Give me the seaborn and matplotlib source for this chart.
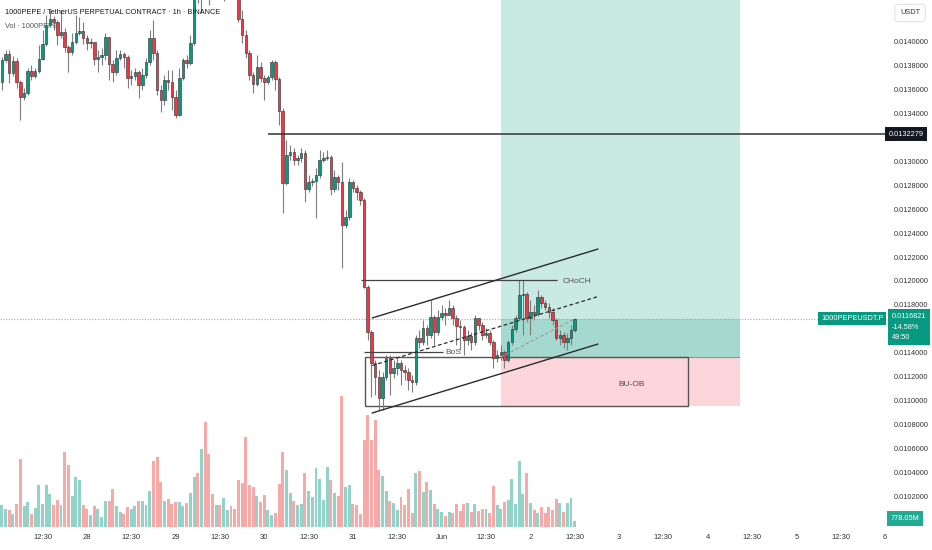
import numpy as np
import pandas as pd
import matplotlib
matplotlib.use("Agg")
import matplotlib.pyplot as plt
import matplotlib.transforms as mtransforms
from matplotlib.patches import Rectangle
import seaborn as sns

# ---------------- data (1h candles, 1000PEPE/USDT perp) ----------------
first_open = 0.013665
close = [0.013849, 0.013899, 0.013740, 0.013841, 0.013665, 0.013539, 0.013573, 0.013757, 0.013715, 0.013757,
         0.013857, 0.013983, 0.014142, 0.014192, 0.014167, 0.014058, 0.014083, 0.013958, 0.013916, 0.014000,
         0.014075, 0.014092, 0.014033, 0.013991, 0.014000, 0.013857, 0.013874, 0.013891, 0.014041, 0.013815,
         0.013749, 0.013866, 0.013899, 0.013874, 0.013698, 0.013715, 0.013749, 0.013640, 0.013723, 0.013832,
         0.014033, 0.013908, 0.013598, 0.013514, 0.013682, 0.013665, 0.013539, 0.013389, 0.013698, 0.013849,
         0.013824, 0.013991, 0.014560, 0.014451, 0.014518, 0.014468, 0.014401, 0.014384, 0.014468, 0.014418,
         0.014451, 0.014502, 0.014435, 0.014376, 0.014192, 0.014058, 0.013908, 0.013723, 0.013648, 0.013790,
         0.013698, 0.013665, 0.013707, 0.013832, 0.013690, 0.013422, 0.012820, 0.013054, 0.013079, 0.013012,
         0.013029, 0.013071, 0.012770, 0.012828, 0.012836, 0.012887, 0.013012, 0.013029, 0.013037, 0.012770,
         0.012870, 0.012828, 0.012468, 0.012535, 0.012828, 0.012778, 0.012744, 0.012677, 0.011949, 0.011573,
         0.011313, 0.011196, 0.011020, 0.011196, 0.011355, 0.011230, 0.011272, 0.011313, 0.011255, 0.011238,
         0.011171, 0.011155, 0.011523, 0.011489, 0.011606, 0.011548, 0.011698, 0.011573, 0.011698, 0.011732,
         0.011715, 0.011774, 0.011690, 0.011623, 0.011615, 0.011506, 0.011539, 0.011489, 0.011690, 0.011632,
         0.011548, 0.011564, 0.011489, 0.011355, 0.011380, 0.011405, 0.011339, 0.011489, 0.011598, 0.011690,
         0.011882, 0.011891, 0.011690, 0.011740, 0.011724, 0.011866, 0.011815, 0.011782, 0.011740, 0.011673,
         0.011523, 0.011548, 0.011489, 0.011523, 0.011590, 0.0116821]
high = [0.013874, 0.013933, 0.013933, 0.013882, 0.013866, 0.013682, 0.013615, 0.013782, 0.013807, 0.013782,
        0.013974, 0.014100, 0.014225, 0.014267, 0.014217, 0.014184, 0.014267, 0.014117, 0.013974, 0.014075,
        0.014225, 0.014209, 0.014167, 0.014058, 0.014033, 0.014000, 0.013933, 0.013949, 0.014075, 0.014041,
        0.013849, 0.013933, 0.013933, 0.013916, 0.013891, 0.013765, 0.013782, 0.013765, 0.013782, 0.013866,
        0.014100, 0.014184, 0.013933, 0.013640, 0.013723, 0.013765, 0.013765, 0.013598, 0.013782, 0.013866,
        0.013891, 0.014058, 0.014602, 0.014585, 0.014602, 0.014569, 0.014502, 0.014468, 0.014535, 0.014518,
        0.014552, 0.014585, 0.014552, 0.014468, 0.014393, 0.014267, 0.014100, 0.013933, 0.013749, 0.013891,
        0.013832, 0.013723, 0.013723, 0.013849, 0.013849, 0.013707, 0.013447, 0.013179, 0.013138, 0.013113,
        0.013054, 0.013113, 0.013096, 0.012887, 0.012862, 0.012945, 0.013096, 0.013079, 0.013096, 0.013054,
        0.012928, 0.012887, 0.012995, 0.012594, 0.012862, 0.012845, 0.012803, 0.012761, 0.012694, 0.011966,
        0.011590, 0.011339, 0.011255, 0.011238, 0.011380, 0.011380, 0.011339, 0.011355, 0.011339, 0.011297,
        0.011272, 0.011213, 0.011548, 0.011590, 0.011673, 0.011632, 0.011841, 0.011715, 0.011757, 0.011799,
        0.011774, 0.011841, 0.011799, 0.011715, 0.011673, 0.011632, 0.011590, 0.011573, 0.011715, 0.011690,
        0.011657, 0.011606, 0.011590, 0.011506, 0.011422, 0.011464, 0.011422, 0.011506, 0.011632, 0.011715,
        0.012008, 0.012008, 0.011907, 0.011841, 0.011799, 0.011924, 0.011882, 0.011841, 0.011815, 0.011774,
        0.011690, 0.011590, 0.011573, 0.011564, 0.011632, 0.011690]
low = [0.013598, 0.013832, 0.013656, 0.013715, 0.013615, 0.013347, 0.013514, 0.013556, 0.013682, 0.013698,
       0.013740, 0.013849, 0.013966, 0.014125, 0.014100, 0.013974, 0.014033, 0.013916, 0.013749, 0.013891,
       0.013983, 0.014058, 0.013983, 0.013933, 0.013949, 0.013807, 0.013749, 0.013807, 0.013849, 0.013682,
       0.013665, 0.013723, 0.013849, 0.013782, 0.013615, 0.013640, 0.013682, 0.013531, 0.013598, 0.013698,
       0.013807, 0.013849, 0.013556, 0.013414, 0.013472, 0.013598, 0.013431, 0.013364, 0.013380, 0.013682,
       0.013782, 0.013807, 0.013974, 0.014326, 0.014242, 0.014376, 0.014309, 0.014368, 0.014376, 0.014368,
       0.014343, 0.014384, 0.014376, 0.014359, 0.014167, 0.013991, 0.013866, 0.013682, 0.013573, 0.013631,
       0.013665, 0.013514, 0.013648, 0.013682, 0.013598, 0.013305, 0.012569, 0.012803, 0.013012, 0.012970,
       0.012970, 0.012995, 0.012661, 0.012744, 0.012795, 0.012527, 0.012862, 0.012995, 0.013012, 0.012719,
       0.012744, 0.012761, 0.012108, 0.012443, 0.012510, 0.012744, 0.012677, 0.012636, 0.011941, 0.011506,
       0.011029, 0.011046, 0.010920, 0.010920, 0.011171, 0.011046, 0.011188, 0.011213, 0.011129, 0.011171,
       0.011088, 0.011071, 0.011129, 0.011439, 0.011464, 0.011464, 0.011523, 0.011464, 0.011548, 0.011673,
       0.011632, 0.011715, 0.011632, 0.011464, 0.011422, 0.011380, 0.011464, 0.011422, 0.011464, 0.011590,
       0.011506, 0.011523, 0.011464, 0.011272, 0.011322, 0.011339, 0.011272, 0.011322, 0.011464, 0.011573,
       0.011673, 0.011548, 0.011657, 0.011548, 0.011673, 0.011707, 0.011774, 0.011757, 0.011690, 0.011632,
       0.011506, 0.011464, 0.011439, 0.011422, 0.011464, 0.011573]
volume_m = [2960, 2420, 2280, 1730, 3100, 9320, 2830, 3370, 1730, 2630,
            5770, 3180, 5770, 4460, 3040, 3730, 2960, 10200, 8420, 4270,
            6780, 6370, 3040, 2420, 1640, 2830, 2420, 1320, 3590, 3510,
            5150, 2910, 2090, 1730, 2730, 2420, 2830, 3510, 3590, 2960,
            4910, 8970, 9510, 6140, 3510, 3820, 3100, 3370, 3370, 2830,
            3240, 4680, 6780, 7330, 10610, 14330, 9920, 4460, 3040, 2960,
            3920, 2280, 2830, 2420, 6370, 6010, 12240, 5690, 5460, 4270,
            3370, 4370, 2280, 1600, 1870, 5910, 10200, 7740, 4680, 3590,
            3040, 3180, 7330, 4910, 4140, 8090, 6550, 3730, 8190, 6370,
            4680, 4270, 17840, 5460, 5690, 3180, 3040, 1730, 11830, 15330,
            11830, 14560, 7780, 7000, 4910, 3510, 3280, 2280, 4050, 2960,
            5230, 1950, 7330, 7680, 4820, 6100, 5010, 3180, 2420, 2050,
            1460, 2050, 1870, 3180, 2180, 3180, 3280, 2050, 3180, 2180,
            2420, 2420, 1950, 5560, 3040, 2420, 3370, 3730, 6550, 3180,
            8970, 4460, 7330, 3280, 2280, 1950, 2730, 1950, 2730, 2280,
            3820, 3280, 2050, 3280, 3920, 778.05]

# trade-setup levels
level_line = 0.0132279
choch_level = 0.012005
bos_level = 0.011405
entry_price = 0.011364
stop_price = 0.010954
target_price = 0.0147
last_price = 0.0116821
change_pct = "-14.58%"
countdown = "49:50"
last_vol_label = "778.05M"
chan_x = [100.2, 161.3]
chan_upper = [0.011690, 0.012267]
chan_lower = [0.010895, 0.011472]
chan_mid = [0.0112925, 0.0118695]

# visible price-scale labels (0.0100, 0.0116, 0.0132, 0.0142 are covered by labels in the original)
price_ticks = [0.0102, 0.0104, 0.0106, 0.0108, 0.0110, 0.0112, 0.0114, 0.0118,
               0.0120, 0.0122, 0.0124, 0.0126, 0.0128, 0.0130, 0.0134, 0.0136, 0.0138,
               0.0140]
time_ticks = [11, 23, 35, 47, 59, 71, 83, 95, 107, 119, 131, 143, 155, 167, 179, 191, 203, 215, 227, 239]
time_labels = ['12:30', '28', '12:30', '29', '12:30', '30', '12:30', '31', '12:30', 'Jun',
               '12:30', '2', '12:30', '3', '12:30', '4', '12:30', '5', '12:30', '6']

# ---------------- frame ----------------
n = len(close)
hours = np.arange(n)
opens = [first_open] + close[:-1]
df = pd.DataFrame({"t": hours, "open": opens, "close": close, "high": high, "low": low,
                   "volume": volume_m})
df["dir"] = np.where(df["close"] >= df["open"], "up", "down")

UP, DOWN = "#089981", "#f23645"
sns.set_theme(style="white")
plt.rcParams["font.family"] = ["Liberation Sans", "DejaVu Sans"]

fig = plt.figure(figsize=(9.32, 5.5), dpi=100)
fig.patch.set_facecolor("white")
ax = fig.add_axes([0, 23 / 550, 887 / 932, 527 / 550])
ax2 = ax.twinx()

# volume (background pane)
sns.barplot(data=df, x="t", y="volume", hue="dir", palette={"up": "#92d2c8", "down": "#f7a9a8"},
            native_scale=True, dodge=False, legend=False, width=0.8, saturation=1,
            errorbar=None, linewidth=0, ax=ax2)
ax2.set_ylim(0, 71935)
ax2.set_yticks([])
ax2.set_ylabel("")
ax2.set_xlabel("")
for s in ax2.spines.values():
    s.set_visible(False)

ax.set_zorder(ax2.get_zorder() + 1)
ax.patch.set_visible(False)

# long position boxes
x0, x1 = 135.05, 199.7
ax.add_patch(Rectangle((x0, entry_price), x1 - x0, target_price - entry_price,
                       fc="#c9e9e3", ec="none", zorder=0.5))
ax.add_patch(Rectangle((x0, entry_price), x1 - x0, last_price - entry_price,
                       fc="#a5d9cf", ec="none", zorder=0.6))
ax.add_patch(Rectangle((x0, stop_price), x1 - x0, entry_price - stop_price,
                       fc="#fbd5d9", ec="none", zorder=0.5))
ax.hlines(entry_price, x0, x1, color="#8a9a98", lw=0.8, zorder=0.7)
# BU-OB box
ax.add_patch(Rectangle((98.3, stop_price), 185.6 - 98.3, entry_price - stop_price,
                       fill=False, ec="#555555", lw=1.0, zorder=1))
ax.text(170.5, 0.011130, "BU-OB", ha="center", va="center", fontsize=6, color="#4a4a4a", zorder=5)

# candles
col = np.where(df["dir"] == "up", UP, DOWN)
ax.vlines(df["t"], df["low"], df["high"], color="#7d7d7d", lw=0.8, zorder=2)
body_low = np.minimum(df["open"], df["close"])
body_h = np.maximum(np.abs(df["close"] - df["open"]), 0.000006)
ax.bar(df["t"], body_h, bottom=body_low, width=0.68, color=col, edgecolor="#2b2b2b",
       linewidth=0.4, zorder=3)

# lines / annotations
xmin, xmax = -0.5, 239.5
ax.hlines(level_line, 72.0, xmax, color="#333333", lw=1.1, zorder=4)
ax.axhline(last_price, color="#6fc0b2", lw=0.8, ls=(0, (1, 1.5)), zorder=1.5)
ax.hlines(choch_level, 97.2, 150.2, color="#444444", lw=0.9, zorder=4)
ax.text(151.8, choch_level - 0.000012, "CHoCH", ha="left", va="center", fontsize=6, color="#555555", zorder=5)
ax.hlines(bos_level, 98.0, 119.4, color="#444444", lw=0.9, zorder=4)
ax.text(119.9, bos_level, "BoS", ha="left", va="center", fontsize=6, color="#555555", zorder=5)
ax.plot(chan_x, chan_upper, color="#2b2b2b", lw=1.0, zorder=4)
ax.plot(chan_x, chan_lower, color="#2b2b2b", lw=1.0, zorder=4)
ax.plot(chan_x, chan_mid, color="#2b2b2b", lw=0.9, ls=(0, (3, 2)), zorder=4)
ax.plot([x0, hours[-1]], [entry_price, last_price], color="#9a9a9a", lw=0.8, ls=(0, (3, 2)), zorder=4)

ax.set_xlim(xmin, xmax)
ax.set_ylim(0.009941, 0.014351)
ax2.set_xlim(xmin, xmax)

# axes styling
for s in ax.spines.values():
    s.set_visible(False)
ax.yaxis.tick_right()
ax.set_yticks(price_ticks)
ax.set_yticklabels([f"{p:.7f}" for p in price_ticks])
ax.set_xticks(time_ticks)
ax.set_xticklabels(time_labels)
ax.tick_params(axis="y", length=0, pad=5, labelsize=5.3, labelcolor="#333333")
ax.tick_params(axis="x", length=0, pad=5, labelsize=5.5, labelcolor="#333333")
ax.grid(False)

blend = mtransforms.blended_transform_factory(ax.transAxes, ax.transData)
ax.text(1.002, level_line, "0.0132279", transform=blend, ha="left", va="center", fontsize=5.3,
        color="white", bbox=dict(boxstyle="square,pad=0.45", fc="#131722", ec="none"),
        clip_on=False, zorder=10)
ax.annotate(f"0.0116821\n{change_pct}\n{countdown}", xy=(1.0, last_price), xycoords=blend,
            xytext=(3.2, 4.2), textcoords="offset points", ha="left", va="top", fontsize=5.3,
            color="white", linespacing=1.7,
            bbox=dict(boxstyle="square,pad=0.5", fc=UP, ec="none"), annotation_clip=False, zorder=10)
ax.annotate("1000PEPEUSDT.P", xy=(1.0, last_price), xycoords=blend, xytext=(-2.5, 0),
            textcoords="offset points", ha="right", va="center", fontsize=5.3, color="white",
            bbox=dict(boxstyle="square,pad=0.4", fc=UP, ec="none"), annotation_clip=False, zorder=10)
blend2 = mtransforms.blended_transform_factory(ax2.transAxes, ax2.transData)
ax2.text(1.004, volume_m[-1] + 400, last_vol_label, transform=blend2, ha="left", va="center",
         fontsize=5.3, color="white", bbox=dict(boxstyle="square,pad=0.5", fc="#22ab94", ec="none"),
         clip_on=False, zorder=10)

fig.text(910 / 932, 1 - 13 / 550, "USDT", ha="center", va="center", fontsize=5.3, color="#333333",
         bbox=dict(boxstyle="round,pad=0.7,rounding_size=0.4", fc="white", ec="#e0e3eb", lw=0.8))
fig.text(5 / 932, 1 - 13 / 550, "1000PEPE / TetherUS PERPETUAL CONTRACT · 1h · BINANCE",
         ha="left", va="center", fontsize=5.3, color="#131722")
fig.text(5 / 932, 1 - 27 / 550, "Vol · 1000PEPE", ha="left", va="center", fontsize=5.3, color="#555555")

fig.savefig("out.png", dpi=100, facecolor="white")
